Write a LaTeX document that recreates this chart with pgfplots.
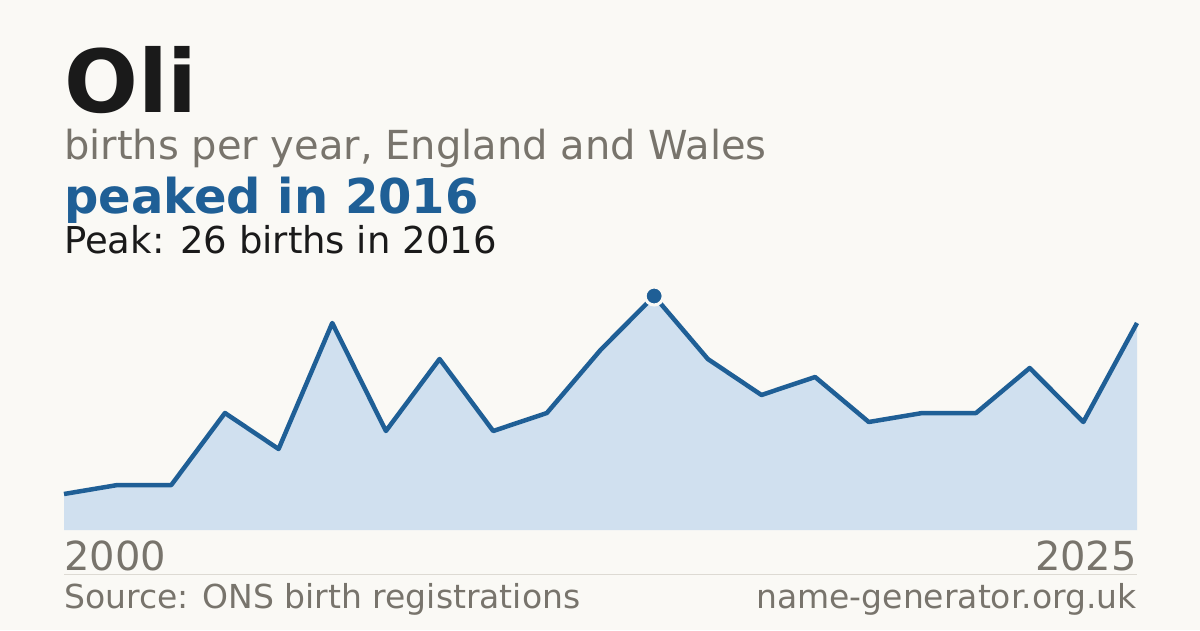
\documentclass[border=0pt]{standalone}
\usepackage{fontspec}
\setmainfont{DejaVu Sans}
\usepackage{pgfplots}
\pgfplotsset{compat=1.18}
\definecolor{bg}{HTML}{FAF9F5}
\definecolor{ink}{HTML}{1A1A1A}
\definecolor{muted}{HTML}{78746C}
\definecolor{line}{HTML}{1F5F96}
\definecolor{area}{HTML}{D0E0EF}
\definecolor{rule}{HTML}{DDDAD3}
\begin{document}
\begin{tikzpicture}[x=1pt,y=1pt]
\fill[bg] (0,0) rectangle (1200,630);
\useasboundingbox (0,0) rectangle (1200,630);
\begin{axis}[at={(64pt,100pt)}, anchor=south west, scale only axis,
    width=1073pt, height=270pt,
    xmin=2005, xmax=2025, ymin=0, ymax=30,
    hide axis, clip=false]
  \addplot[draw=none, fill=area] coordinates {
    (2005,4) (2006,5) (2007,5) (2008,13) (2009,9) (2010,23) (2011,11)
    (2012,19) (2013,11) (2014,13) (2015,20) (2016,26) (2017,19) (2018,15)
    (2019,17) (2020,12) (2021,13) (2022,13) (2023,18) (2024,12) (2025,23)
  } \closedcycle;
  \addplot[line, line width=4.5pt, line join=round, mark=none] coordinates {
    (2005,4) (2006,5) (2007,5) (2008,13) (2009,9) (2010,23) (2011,11)
    (2012,19) (2013,11) (2014,13) (2015,20) (2016,26) (2017,19) (2018,15)
    (2019,17) (2020,12) (2021,13) (2022,13) (2023,18) (2024,12) (2025,23)
  };
  \addplot[only marks, mark=*, mark size=9pt,
    mark options={fill=line, draw=bg, line width=3pt}] coordinates {(2016,26)};
\end{axis}
\node[anchor=base west, inner sep=0, text=ink, font=\fontsize{87}{87}\selectfont\bfseries] at (64,517) {Oli};
\node[anchor=base west, inner sep=0, text=muted, font=\fontsize{40}{40}\selectfont] at (64,470) {births per year, England and Wales};
\node[anchor=base west, inner sep=0, text=line, font=\fontsize{48}{48}\selectfont\bfseries] at (64,416) {peaked in 2016};
\node[anchor=base west, inner sep=0, text=ink, font=\fontsize{37}{37}\selectfont] at (64,376) {Peak: 26 births in 2016};
\node[anchor=base west, inner sep=0, text=muted, font=\fontsize{40}{40}\selectfont] at (64,60) {2000};
\node[anchor=base east, inner sep=0, text=muted, font=\fontsize{40}{40}\selectfont] at (1137,60) {2025};
\draw[rule, line width=1pt] (64,56) -- (1137,56);
\node[anchor=base west, inner sep=0, text=muted, font=\fontsize{33}{33}\selectfont] at (64,22) {Source: ONS birth registrations};
\node[anchor=base east, inner sep=0, text=muted, font=\fontsize{33}{33}\selectfont] at (1137,22) {name-generator.org.uk};
\end{tikzpicture}
\end{document}
